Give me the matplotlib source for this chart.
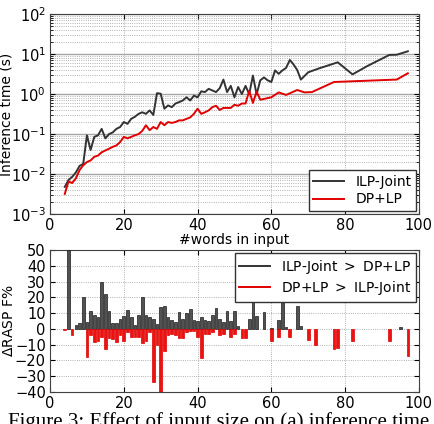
import matplotlib
matplotlib.use('Agg')
import matplotlib.pyplot as plt
from matplotlib.lines import Line2D
import numpy as np

# inference time (s) vs #words in input
ilp_x = [4, 5, 6, 7, 8, 9, 10, 11, 12, 13, 14, 15, 16, 17, 18, 19, 20, 21, 22, 23, 24, 25,
         26, 27, 28, 29, 30, 31, 32, 33, 34, 35, 36, 37, 38, 39, 40, 41, 42, 43, 44, 45,
         46, 47, 48, 49, 50, 51, 52, 53, 54, 55, 56, 57, 58, 59, 60, 61, 62, 63, 64, 65,
         66, 67, 68, 70, 73, 78, 82, 86, 92, 94, 97]
ilp_t = [0.0048, 0.0071, 0.0085, 0.011, 0.016, 0.018, 0.093, 0.040, 0.085, 0.093, 0.135, 0.078,
         0.10, 0.11, 0.135, 0.15, 0.20, 0.18, 0.24, 0.27, 0.32, 0.35, 0.32, 0.39, 0.30, 1.05,
         1.02, 0.43, 0.52, 0.47, 0.58, 0.63, 0.69, 0.83, 0.69, 0.91, 0.83, 1.17, 1.12, 1.35,
         1.23, 1.12, 1.4, 2.3, 1.12, 1.6, 0.83, 1.5, 1.0, 1.6, 1.0, 2.9, 0.98, 2.2, 2.6, 2.2,
         2.0, 3.9, 3.2, 3.9, 4.5, 7.1, 5.5, 4.0, 2.3, 3.5, 4.4, 6.2, 3.1, 5.0, 9.5, 9.6, 11.7]

dp_x = [4, 5, 6, 7, 8, 9, 10, 11, 12, 13, 14, 15, 16, 17, 18, 19, 20, 21, 22, 23, 24, 25,
        26, 27, 28, 29, 30, 31, 32, 33, 34, 35, 36, 37, 38, 39, 40, 41, 42, 43, 44, 45,
        46, 47, 49, 50, 51, 52, 53, 54, 55, 56, 57, 60, 62, 64, 67, 69, 71, 77, 80, 94, 97]
dp_t = [0.0032, 0.0065, 0.006, 0.0078, 0.0126, 0.0166, 0.020, 0.022, 0.027, 0.029, 0.035,
        0.039, 0.043, 0.048, 0.052, 0.063, 0.085, 0.078, 0.085, 0.093, 0.10, 0.12, 0.166,
        0.125, 0.15, 0.135, 0.20, 0.166, 0.20, 0.19, 0.20, 0.22, 0.22, 0.24, 0.26, 0.32,
        0.43, 0.32, 0.35, 0.39, 0.47, 0.51, 0.40, 0.45, 0.45, 0.54, 0.51, 0.58, 0.58, 1.2,
        0.6, 1.15, 0.72, 0.83, 1.1, 0.95, 1.26, 1.1, 1.12, 2.0, 2.05, 2.3, 3.3]

# delta RASP F% per input size
ilp_gain_x = [5, 7, 8, 9, 10, 11, 12, 13, 14, 15, 16, 17, 18, 19, 20, 21, 22, 23, 24, 25, 26,
              27, 28, 29, 30, 31, 32, 33, 34, 35, 36, 37, 38, 39, 40, 41, 42, 43, 44, 45,
              46, 47, 48, 49, 50, 51, 54, 55, 56, 58, 60, 62, 63, 64, 67, 68, 95]
ilp_gain = [50, 2.5, 4, 20, 4.5, 11, 9, 7.5, 29.5, 22, 11.5, 4, 3.5, 6.5, 8, 12, 7.5, 2.5, 9,
            20, 9, 7.5, 6, 3, 14, 14.5, 7.5, 5.5, 4.5, 10.5, 6, 10, 12.5, 5.5, 5, 7.5, 5.5,
            5, 9, 13, 6.5, 4.5, 11.5, 5, 11.5, 2, 6.5, 17, 8, 10.5, 0.5, 5.7, 17.7, 1, 14.8,
            2, 1]
dp_gain_x = [4, 6, 10, 11, 12, 13, 14, 15, 16, 17, 18, 19, 20, 21, 22, 23, 24, 25, 26, 27, 28,
             29, 30, 31, 32, 33, 34, 35, 36, 37, 38, 39, 40, 41, 42, 43, 44, 46, 47, 49, 50,
             52, 53, 60, 62, 65, 70, 72, 77, 78, 82, 92, 97]
dp_gain = [-0.5, -4, -18, -4, -8.5, -8, -5, -13, -6, -6.5, -8.5, -4, -8, -2, -5, -5, -5, -9,
           -8, -2, -33.5, -10, -40, -14, -4, -3.5, -4, -6, -6, -2, -1.5, -1.5, -5, -18.5, -3,
           -3, -2, -4, -3.5, -5, -3, -6, -6, -8, -5, -5, -7, -10, -13, -12, -8, -7.5, -17.5]

plt.rcParams['font.family'] = 'DejaVu Sans'
plt.rcParams['font.size'] = 10


def style_ax(ax):
    ax.tick_params(direction='in', top=True, right=True, labelsize=10.5, pad=3)
    ax.tick_params(which='minor', direction='in', top=True, right=True)
    for s in ax.spines.values():
        s.set_color('0.25')
    ax.set_axisbelow(True)


fig = plt.figure(figsize=(4.35, 4.24), dpi=100)

# (a) inference time
ax = fig.add_axes([0.115, 0.495, 0.848, 0.472])
style_ax(ax)
ax.set_yscale('log')
ax.plot(ilp_x, ilp_t, color='0.2', lw=1.4, label='ILP-Joint')
ax.plot(dp_x, dp_t, color='#e00000', lw=1.4, label='DP+LP')
ax.set_xlim(0, 100)
ax.set_ylim(1e-3, 1e2)
ax.set_xticks([0, 20, 40, 60, 80, 100])
ax.yaxis.grid(True, which='major', color='0.65', lw=1.0, ls='-')
ax.yaxis.grid(True, which='minor', color='0.6', lw=0.6, ls=':')
ax.xaxis.grid(True, which='major', color='0.6', lw=0.6, ls=':')
ax.set_xlabel('#words in input', fontsize=10, labelpad=0)
ax.set_ylabel('Inference time (s)', fontsize=10)
ax.yaxis.set_label_coords(-0.098, 0.5)
leg = ax.legend(loc='lower right', fontsize=10, fancybox=False, framealpha=1,
                handlelength=2.2, borderaxespad=0.2, borderpad=0.35, labelspacing=0.25)
leg.get_frame().set_edgecolor('0.2')

# (b) delta RASP F%
bx = fig.add_axes([0.115, 0.0755, 0.848, 0.335])
style_ax(bx)
bx.bar(ilp_gain_x, ilp_gain, width=0.72, color='0.32', edgecolor='0.1', lw=0.5, zorder=3)
bx.bar(dp_gain_x, dp_gain, width=0.72, color='#ee1111', edgecolor='#dd0000', lw=0.5, zorder=3)
bx.set_xlim(0, 100)
bx.set_ylim(-40, 50)
bx.set_xticks([0, 20, 40, 60, 80, 100])
bx.set_yticks(np.arange(-40, 51, 10))
bx.grid(True, color='0.6', lw=0.6, ls=':')
bx.set_ylabel(r'$\Delta$RASP F%', fontsize=10)
bx.yaxis.set_label_coords(-0.092, 0.5)
handles = [Line2D([], [], color='0.2', lw=1.4), Line2D([], [], color='#e00000', lw=1.4)]
leg2 = bx.legend(handles, [r'ILP-Joint $>$ DP+LP', r'DP+LP $>$ ILP-Joint'],
                 loc='upper right', fontsize=10, fancybox=False, framealpha=1,
                 handlelength=2.2, borderaxespad=0.2, borderpad=0.35, labelspacing=0.25)
leg2.get_frame().set_edgecolor('0.2')

fig.text(0.018, 0.027, 'Figure 3: Effect of input size on (a) inference time',
         family='Liberation Serif', fontsize=15, va='top', ha='left')

fig.savefig('out.png', dpi=100)
